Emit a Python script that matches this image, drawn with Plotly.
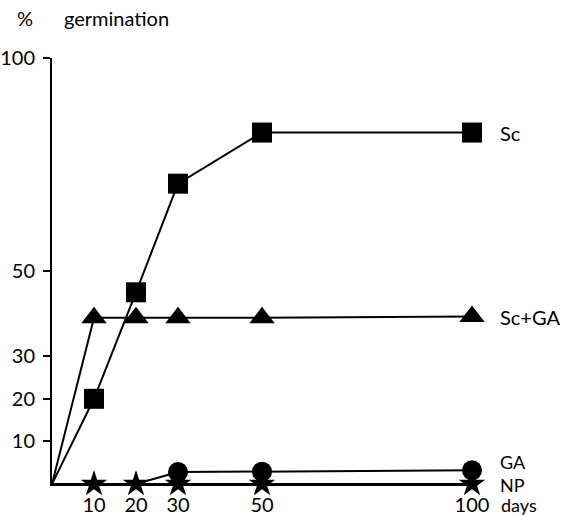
import plotly.graph_objects as go

days = [0, 10, 20, 30, 50, 100]
sc = [0, 20, 45, 70.5, 82.5, 82.5]
sc_ga = [0, 39, 39, 39, 39, 39.3]
ga = [0, 0, 0, 2.8, 2.9, 3.2]
np_vals = [0, 0, 0, 0, 0, 0]

x_ticks = [10, 20, 30, 50, 100]
x_tick_labels = ["10", "20", "30", "50", "100"]
y_ticks = [10, 20, 30, 50, 100]
y_tick_labels = ["10", "20", "30", "50", "100"]

FONT = "Lato"
FS = 20
FS_SMALL = 18

fig = go.Figure()

def add(y, symbol, size, marker_from=1):
    fig.add_trace(go.Scatter(
        x=days, y=y, mode="lines", line=dict(color="black", width=2),
        cliponaxis=False, showlegend=False, hoverinfo="skip"))
    fig.add_trace(go.Scatter(
        x=days[marker_from:], y=y[marker_from:], mode="markers",
        marker=dict(symbol=symbol, size=size, color="black"),
        cliponaxis=False, showlegend=False, hoverinfo="skip"))

add(np_vals, "star", 20)
add(ga, "circle", 20, marker_from=3)
add(sc_ga, "triangle-up", 22)
add(sc, "square", 20)

labels = [("Sc", sc[-1], 0, FS), ("Sc+GA", sc_ga[-1], 0, FS),
          ("GA", ga[-1], 8, FS_SMALL), ("NP", np_vals[-1], -1, FS_SMALL)]
for text, yv, ys, fs in labels:
    fig.add_annotation(x=100, y=yv, xref="x", yref="y", text=text, showarrow=False,
                       xanchor="left", xshift=27, yshift=ys, borderpad=0,
                       font=dict(family=FONT, size=fs, color="black"))

fig.add_annotation(x=100, y=0, xref="x", yref="y", text="days", showarrow=False,
                   xanchor="left", yanchor="middle", xshift=28, yshift=-21, borderpad=0,
                   font=dict(family=FONT, size=FS_SMALL, color="black"))
fig.add_annotation(x=-0.088, y=1.094, xref="paper", yref="paper", text="%", showarrow=False,
                   xanchor="left", yanchor="middle", font=dict(family=FONT, size=FS, color="black"))
fig.add_annotation(x=0.024, y=1.094, xref="paper", yref="paper", text="germination", showarrow=False,
                   xanchor="left", yanchor="middle", font=dict(family=FONT, size=FS, color="black"))

fig.update_layout(
    width=563, height=515,
    margin=dict(l=52, r=91, t=58, b=31),
    plot_bgcolor="white", paper_bgcolor="white",
    font=dict(family=FONT, size=FS, color="black"),
    xaxis=dict(range=[0, 100], tickvals=x_ticks, ticktext=x_tick_labels,
               showgrid=False, zeroline=False, showline=True, linecolor="black", linewidth=2,
               ticks="", ticklabelstandoff=2, automargin=False, fixedrange=True),
    yaxis=dict(range=[0, 100], tickvals=y_ticks, ticktext=y_tick_labels,
               showgrid=False, zeroline=False, showline=True, linecolor="black", linewidth=2,
               ticks="outside", ticklen=7, tickwidth=2, tickcolor="black",
               ticklabelstandoff=4, automargin=False, fixedrange=True),
)

fig.write_html("out.html")
